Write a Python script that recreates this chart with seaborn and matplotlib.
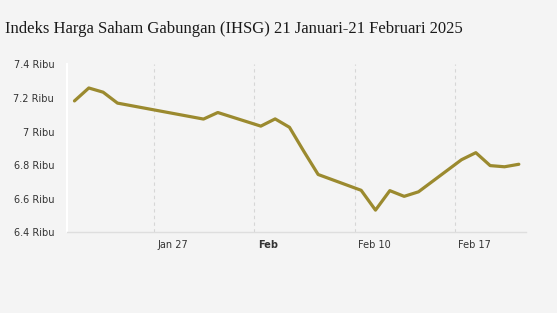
import matplotlib
matplotlib.use("Agg")
import matplotlib.pyplot as plt
import matplotlib.transforms as mtransforms
import seaborn as sns
import pandas as pd

# ---- data ----
dates = ["2025-01-21", "2025-01-22", "2025-01-23", "2025-01-24", "2025-01-30",
         "2025-01-31", "2025-02-03", "2025-02-04", "2025-02-05", "2025-02-06",
         "2025-02-07", "2025-02-10", "2025-02-11", "2025-02-12", "2025-02-13",
         "2025-02-14", "2025-02-17", "2025-02-18", "2025-02-19", "2025-02-20",
         "2025-02-21"]
ihsg = [7.182, 7.259, 7.234, 7.169, 7.074, 7.113, 7.032, 7.075, 7.025, 6.882,
        6.744, 6.650, 6.532, 6.648, 6.614, 6.641, 6.832, 6.874, 6.797, 6.790,
        6.805]
tick_dates = ["2025-01-27", "2025-02-03", "2025-02-10", "2025-02-17"]
tick_labels = ["Jan 27", "Feb", "Feb 10", "Feb 17"]
y_ticks = [6.4, 6.6, 6.8, 7.0, 7.2, 7.4]
y_labels = ["6.4 Ribu", "6.6 Ribu", "6.8 Ribu", "7 Ribu", "7.2 Ribu", "7.4 Ribu"]
title = "Indeks Harga Saham Gabungan (IHSG) 21 Januari-21 Februari 2025"

df = pd.DataFrame({"date": pd.to_datetime(dates), "value": ihsg})

BG = "#f4f4f4"
LINE = "#9b8a2f"
TXT = "#333333"

sns.set_style("white")
plt.rcParams["font.family"] = ["DejaVu Sans"]

fig = plt.figure(figsize=(5.57, 3.13), dpi=100, facecolor=BG)
ax = fig.add_axes([66.7 / 557, 1 - 232.3 / 313, (526 - 66.7) / 557, 168 / 313])
ax.set_facecolor(BG)

sns.lineplot(data=df, x="date", y="value", ax=ax, color=LINE, linewidth=2.3)

ax.set_ylim(6.4, 7.4)
ax.set_xlim(df["date"].min() - pd.Timedelta(hours=13),
            df["date"].max() + pd.Timedelta(hours=12))

xt = pd.to_datetime(tick_dates) - pd.Timedelta(hours=11)
ax.set_xticks(xt)
ax.set_xticklabels([])
ax.tick_params(axis="x", length=5, width=0.8, color="#dcdcdc")

# left-aligned tick labels just right of each gridline
trans = ax.get_xaxis_transform() + mtransforms.ScaledTranslation(
    3.5 / 100, -13 / 100, fig.dpi_scale_trans)
for pos, txt in zip(xt, tick_labels):
    ax.text(pos, 0, txt, transform=trans, ha="left", va="center", fontsize=7,
            color=TXT, fontweight="bold" if txt == "Feb" else "normal")

ax.grid(axis="x", color="#d6d6d6", linestyle=(0, (3, 3)), linewidth=0.8)
ax.grid(axis="y", visible=False)

ax.set_yticks(y_ticks)
ax.set_yticklabels(y_labels, fontsize=7, color=TXT)
ax.tick_params(axis="y", length=5, width=1.2, color="white", pad=4)

ax.set_xlabel("")
ax.set_ylabel("")

for s in ["top", "right"]:
    ax.spines[s].set_visible(False)
ax.spines["left"].set_color("white")
ax.spines["left"].set_linewidth(1.5)
ax.spines["bottom"].set_color("#dedede")
ax.spines["bottom"].set_linewidth(1.0)

t = fig.text(5 / 557, 1 - 33 / 313, title, fontsize=14, color="#1a1a1a",
             family=["Liberation Serif"], ha="left", va="baseline")
fig.canvas.draw()
w = t.get_window_extent(fig.canvas.get_renderer()).width
t.set_fontsize(14 * 461 / w)

fig.savefig("out.png", dpi=100, facecolor=BG)
